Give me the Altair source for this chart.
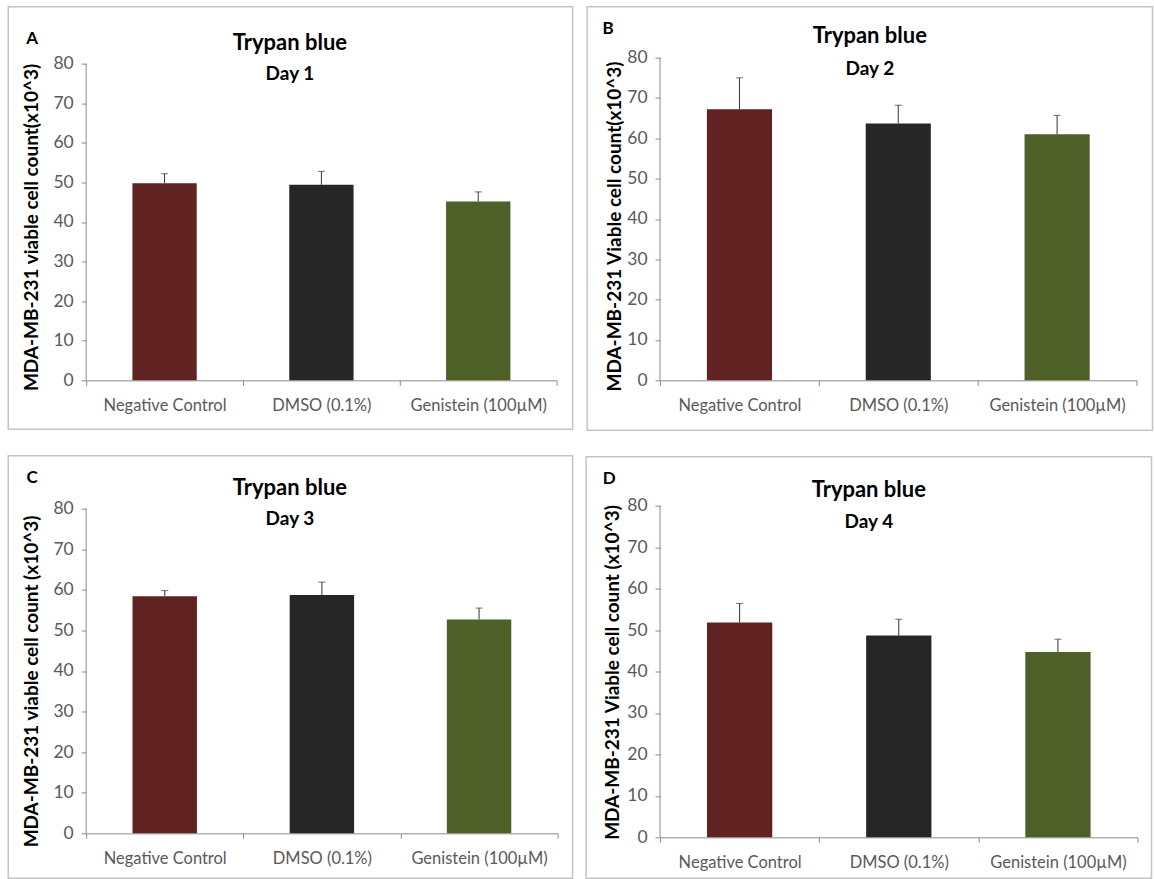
import altair as alt
import pandas as pd

cats = ["Negative Control", "DMSO (0.1%)", "Genistein (100µM)"]
colors = ["#612222", "#262626", "#4E5F27"]

day1_vals = [49.8, 49.4, 45.2]
day1_tops = [52.2, 52.8, 47.6]
day2_vals = [67.2, 63.7, 61.0]
day2_tops = [75.0, 68.2, 65.7]
day3_vals = [58.4, 58.7, 52.7]
day3_tops = [59.8, 61.9, 55.5]
day4_vals = [51.8, 48.7, 44.7]
day4_tops = [56.4, 52.6, 47.8]

y_ticks = [0, 10, 20, 30, 40, 50, 60, 70, 80]
y_axis_min = 0
y_axis_max = 80

FONT = "Lato"
AXIS_GRAY = "#8c8c8c"


def panel(letter, day, ytitle, vals, tops, w, h, plot80, left, top, right, bottom,
          letter_xy, title_x, title_y1, title_y2, ytitle_xy):
    # plot80: pixel height of the 0..80 span; the plot area may have a few
    # extra pixels above 80 so that row neighbours share their origin.
    df = pd.DataFrame({"cat": cats, "val": vals, "top": tops})
    one = pd.DataFrame({"k": [0]})
    ax = pd.DataFrame({"y0": [y_axis_min], "y1": [y_axis_max]})

    x_enc = alt.X(
        "cat:N", sort=cats,
        scale=alt.Scale(paddingInner=0, paddingOuter=0),
        axis=alt.Axis(title=None, labelAngle=0, tickBand="extent",
                      labelFontSize=16.5, labelColor="#595959", labelPadding=12,
                      tickSize=5, domainColor=AXIS_GRAY, tickColor=AXIS_GRAY,
                      labelFont=FONT),
    )
    y_scale = alt.Scale(domain=[0, 80 * h / plot80], nice=False, zero=True)
    y_axis = alt.Axis(values=y_ticks, grid=False, title=None, domain=False,
                      labelFontSize=17.5, labelColor="#595959", labelPadding=8,
                      labelFont=FONT, tickSize=5, tickColor=AXIS_GRAY)

    border = alt.Chart(one).mark_rect(filled=False, stroke="#c4c4c4", strokeWidth=1.5).encode(
        x=alt.value(-left), x2=alt.value(w + right),
        y=alt.value(-top), y2=alt.value(h + bottom))

    bars = alt.Chart(df).mark_bar(width=alt.RelativeBandSize(0.41)).encode(
        x=x_enc,
        y=alt.Y("val:Q", scale=y_scale, axis=y_axis),
        color=alt.Color("cat:N", scale=alt.Scale(domain=cats, range=colors), legend=None),
    )
    err = alt.Chart(df).mark_rule(color="#333333", strokeWidth=1).encode(
        x=x_enc,
        y=alt.Y("val:Q", scale=y_scale, axis=y_axis),
        y2="top:Q",
    )
    caps = alt.Chart(df).mark_tick(color="#333333", thickness=1, size=7).encode(
        x=x_enc,
        y=alt.Y("top:Q", scale=y_scale, axis=y_axis),
    )
    yline = alt.Chart(ax).mark_rule(color=AXIS_GRAY, strokeWidth=1).encode(
        x=alt.value(0),
        y=alt.Y("y0:Q", scale=y_scale, axis=y_axis),
        y2="y1:Q",
    )

    ytitle_t = alt.Chart(one).mark_text(text=ytitle, fontSize=19, fontWeight="bold",
                                        font=FONT, color="#000000", angle=270,
                                        align="center", baseline="middle").encode(
        x=alt.value(ytitle_xy[0]), y=alt.value(ytitle_xy[1]))
    letter_t = alt.Chart(one).mark_text(text=letter, fontSize=17, fontWeight="bold",
                                        font=FONT, color="#000000",
                                        align="center", baseline="middle").encode(
        x=alt.value(letter_xy[0]), y=alt.value(letter_xy[1]))
    t1 = alt.Chart(one).mark_text(text="Trypan blue", fontSize=22, fontWeight="bold",
                                  font=FONT, color="#000000",
                                  align="center", baseline="middle").encode(
        x=alt.value(title_x), y=alt.value(title_y1))
    t2 = alt.Chart(one).mark_text(text=day, fontSize=19, fontWeight="bold",
                                  font=FONT, color="#000000",
                                  align="center", baseline="middle").encode(
        x=alt.value(title_x), y=alt.value(title_y2))

    return alt.layer(border, bars, err, caps, yline, ytitle_t, letter_t, t1, t2).properties(
        width=w, height=h)


# Row 1 shares its origin at the top of B's plot; row 2 at the top of D's plot.
pA = panel("A", "Day 1", "MDA-MB-231 viable cell count(x10^3)", day1_vals, day1_tops,
           471, 323, 317, 78, 51, 16, 49, (-54, -19), 204, -15, 16, (-54, 170))
pB = panel("B", "Day 2", "MDA-MB-231 Viable cell count(x10^3)", day2_vals, day2_tops,
           477, 323, 323, 73, 51, 16, 50, (-52, -29), 210, -22, 11, (-45, 169))
pC = panel("C", "Day 3", "MDA-MB-231 viable cell count (x10^3)", day3_vals, day3_tops,
           472, 328, 325, 78, 50, 15, 45, (-54, -28), 204, -18, 13, (-54, 176))
pD = panel("D", "Day 4", "MDA-MB-231 Viable cell count (x10^3)", day4_vals, day4_tops,
           478, 332, 332, 74, 49, 14, 41, (-51, -27), 209, -16, 16, (-47, 167))

chart = alt.concat(
    pA, pB, pC, pD, columns=2, spacing=alt.RowColnumber(row=23.5, column=11.5)
).properties(
    padding={"left": 7.25, "top": 5.25, "right": 0, "bottom": 0},
    background="white",
).configure_view(stroke=None)

chart.save("out.html", embed_options={"renderer": "svg", "actions": False})
